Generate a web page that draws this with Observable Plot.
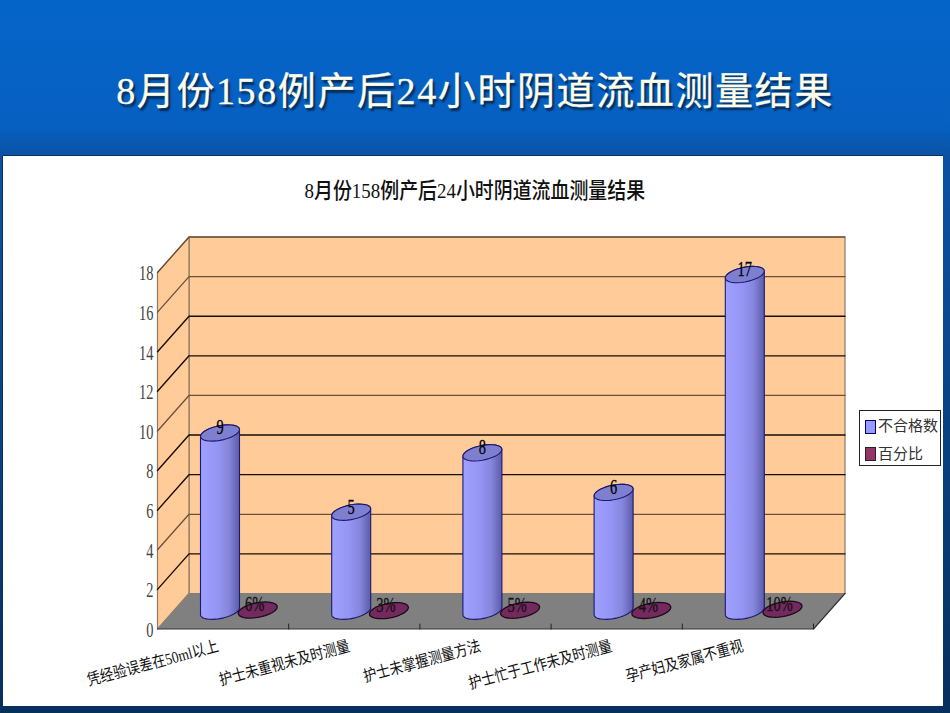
<!DOCTYPE html>
<html lang="zh">
<head>
<meta charset="utf-8">
<script src="https://cdn.jsdelivr.net/npm/d3@7"></script>
<script src="https://cdn.jsdelivr.net/npm/@observablehq/plot@0.6"></script>
<style>
html,body{margin:0;padding:0;width:950px;height:713px;overflow:hidden}
body{position:relative;background:linear-gradient(#0564c8 0,#0660c2 125px,#0a52a4 156px,#0a4a94 300px,#07305f 700px);font-family:"Liberation Serif","Noto Sans CJK SC",serif}
#panel{position:absolute;left:3px;top:156px;width:940px;height:550px;background:#fff;box-shadow:0 -1px 0 #0b2f5c,-1px 0 0 #0b2f5c}
h1{position:absolute;left:0;top:65px;width:950px;margin:0;text-align:center;font-size:38px;line-height:52px;font-weight:400;color:#fdfdea;text-shadow:2px 3px 2px #06284f;letter-spacing:1.6px;white-space:nowrap;-webkit-text-stroke:.3px #fdfdea}
h2{position:absolute;left:0;top:176px;width:950px;margin:0;text-align:center;font-size:22px;line-height:30px;font-weight:500;color:#111;white-space:nowrap;transform:scaleX(.86);transform-origin:474px 15px}
#chart{position:absolute;left:0;top:0}
#legend{position:absolute;left:859px;top:410px;width:80px;height:54px;border:1px solid #222;background:#fff;font-size:15px;color:#333}
.row{position:absolute;left:18px;white-space:nowrap;line-height:20px}
.sw{position:absolute;left:5px;width:9px;height:12px}
</style>
</head>
<body>
<div id="panel"></div>
<h1>8月份158例产后24小时阴道流血测量结果</h1>
<h2>8月份158例产后24小时阴道流血测量结果</h2>
<div id="chart"></div>
<div id="legend">
  <div class="sw" style="top:9px;background:#9999ff;border:1px solid #000066"></div><div class="row" style="top:5px">不合格数</div>
  <div class="sw" style="top:36px;background:#993366;border:1px solid #222"></div><div class="row" style="top:33px">百分比</div>
</div>
<script>
const categories = ["凭经验误差在50ml以上","护士未重视未及时测量","护士未掌握测量方法","护士忙于工作未及时测量","孕产妇及家属不重视"];
const counts = [9,5,8,6,17];
const percents = [6,3,5,4,10];
const yTicks = [0,2,4,6,8,10,12,14,16,18];
const darkGrid = [2,6,8,12,14];
const softGrid = [4,10,16,18];

// 3D depth and pixel units expressed in data units of the scales below
const ux = 5/656, uy = 18/356.5;
const DX = 31.5*ux, DY = 35.5*uy;
const at = (cat,val,d=0)=>({x:cat+d*DX,y:val+d*DY});
const poly = (id,pts)=>pts.map(p=>({id,...p}));

const backWall = poly("back",[at(0,0,1),at(5,0,1),at(5,18,1),at(0,18,1)]);
const sideWall = poly("side",[at(0,0,0),at(0,0,1),at(0,18,1),at(0,18,0)]);
const floor = poly("floor",[at(0,0,0),at(5,0,0),at(5,0,1),at(0,0,1)]);
const floorEdge = poly("edge",[at(0,0,0),at(5,0,0),at(5,0,1)]);

const grid = (vals)=>vals.flatMap(v=>[{id:v,...at(0,v,0)},{id:v,...at(0,v,1)},{id:v,...at(5,v,1)}]);

const offset = 18.85*ux;
const center = (i,s)=>({x:i+.5+.5*DX+s*offset,y:.5*DY});
const ell = (c,v,t,rx=19.5,ry=7.4,sk=3.4)=>({x:c.x+rx*Math.cos(t)*ux,y:c.y+v+(sk*Math.cos(t)+ry*Math.sin(t))*uy});
const ts = (a,b,n=16)=>d3.range(n+1).map(k=>a+(b-a)*k/n);

const bodies = counts.flatMap((v,i)=>{const c=center(i,-1);return poly("b"+i,[
  ...ts(Math.PI,2*Math.PI).map(t=>ell(c,0,t)),
  ...ts(0,Math.PI).map(t=>ell(c,v,t))]);});
const tops = counts.flatMap((v,i)=>{const c=center(i,-1);return poly("t"+i,ts(0,2*Math.PI,32).slice(0,-1).map(t=>ell(c,v,t)));});
const discs = percents.flatMap((p,i)=>{const c=center(i,1);return poly("p"+i,ts(0,2*Math.PI,32).slice(0,-1).map(t=>ell(c,p/100,t,19.5,7.4,3.2)));});

const countLabels = counts.map((v,i)=>{const c=center(i,-1);return {x:c.x,y:c.y+v,t:String(v)};});
const pctLabels = percents.map((p,i)=>{const c=center(i,1);return {x:c.x,y:c.y+p/100,t:p+"%"};});
const axisLabels = categories.map((t,i)=>({x:i+.5,t}));

const defs = ()=>{
  const s=d3.create("svg:g");
  const g=s.append("defs").append("linearGradient").attr("id","cyl");
  [[0,"#a0a0ff"],[.45,"#9494f4"],[.72,"#8686dc"],[1,"#5c5cac"]].forEach(([o,c])=>g.append("stop").attr("offset",o).attr("stop-color",c));
  return s.node();
};

const serif = "Liberation Serif, Noto Sans CJK SC, serif";
const chart = Plot.plot({
  width:950,height:713,margin:0,
  style:{background:"transparent"},
  x:{type:"linear",domain:[0,5],range:[157,813],axis:null},
  y:{type:"linear",domain:[0,18],range:[628.5,272],axis:null},
  marks:[
    defs,
    Plot.line(backWall,{x:"x",y:"y",z:"id",curve:"linear-closed",fill:"#ffcc99",stroke:"#8c7a68",strokeWidth:1.2}),
    Plot.line(sideWall,{x:"x",y:"y",z:"id",curve:"linear-closed",fill:"#ffcc99",stroke:"#8c7a68",strokeWidth:1.2}),
    Plot.line(grid(softGrid),{x:"x",y:"y",z:"id",stroke:"#6e5038",strokeWidth:1.3}),
    Plot.line(grid(darkGrid),{x:"x",y:"y",z:"id",stroke:"#1a0c04",strokeWidth:1.4}),
    Plot.line(floor,{x:"x",y:"y",z:"id",curve:"linear-closed",fill:"#808080"}),
    Plot.line(floorEdge,{x:"x",y:"y",z:"id",stroke:"#333",strokeWidth:1.2}),
    Plot.line(d3.range(1,6).flatMap(i=>[{id:i,...at(i,0)},{id:i,...at(i,0.25)}]),{x:"x",y:"y",z:"id",stroke:"#222",strokeWidth:1}),
    Plot.line(bodies,{x:"x",y:"y",z:"id",curve:"linear-closed",fill:"url(#cyl)",stroke:"#1a1a70",strokeWidth:1.1}),
    Plot.line(tops,{x:"x",y:"y",z:"id",curve:"linear-closed",fill:"#7f7fd2",stroke:"#1a1a70",strokeWidth:1.1}),
    Plot.line(discs,{x:"x",y:"y",z:"id",curve:"linear-closed",fill:"#74295f",stroke:"#1c0c18",strokeWidth:1.3}),
    Plot.text(yTicks,{x:()=>0,y:d=>d,text:d=>String(d),textAnchor:"end",dx:-4,dy:1.5,fontSize:20,fontFamily:serif,fill:"#444"}),
    Plot.text(countLabels,{x:"x",y:"y",text:"t",dy:-5,fontSize:20,fontFamily:serif,fill:"#000",stroke:"#000",strokeWidth:.3}),
    Plot.text(pctLabels,{x:"x",y:"y",text:"t",dx:-3,dy:-5,fontSize:20,fontFamily:serif,fill:"#111",stroke:"#111",strokeWidth:.3}),
    Plot.text(axisLabels,{x:"x",y:()=>-0.85,text:"t",textAnchor:"end",rotate:-15,dx:-5,fontSize:16,fontFamily:serif,fill:"#111"})
  ]
});
document.getElementById("chart").appendChild(chart);
chart.querySelectorAll("text").forEach(t=>{
  const k = categories.includes(t.textContent) ? .84 : .72;
  t.setAttribute("textLength",t.getComputedTextLength()*k);
  t.setAttribute("lengthAdjust","spacingAndGlyphs");
});
</script>
</body>
</html>
